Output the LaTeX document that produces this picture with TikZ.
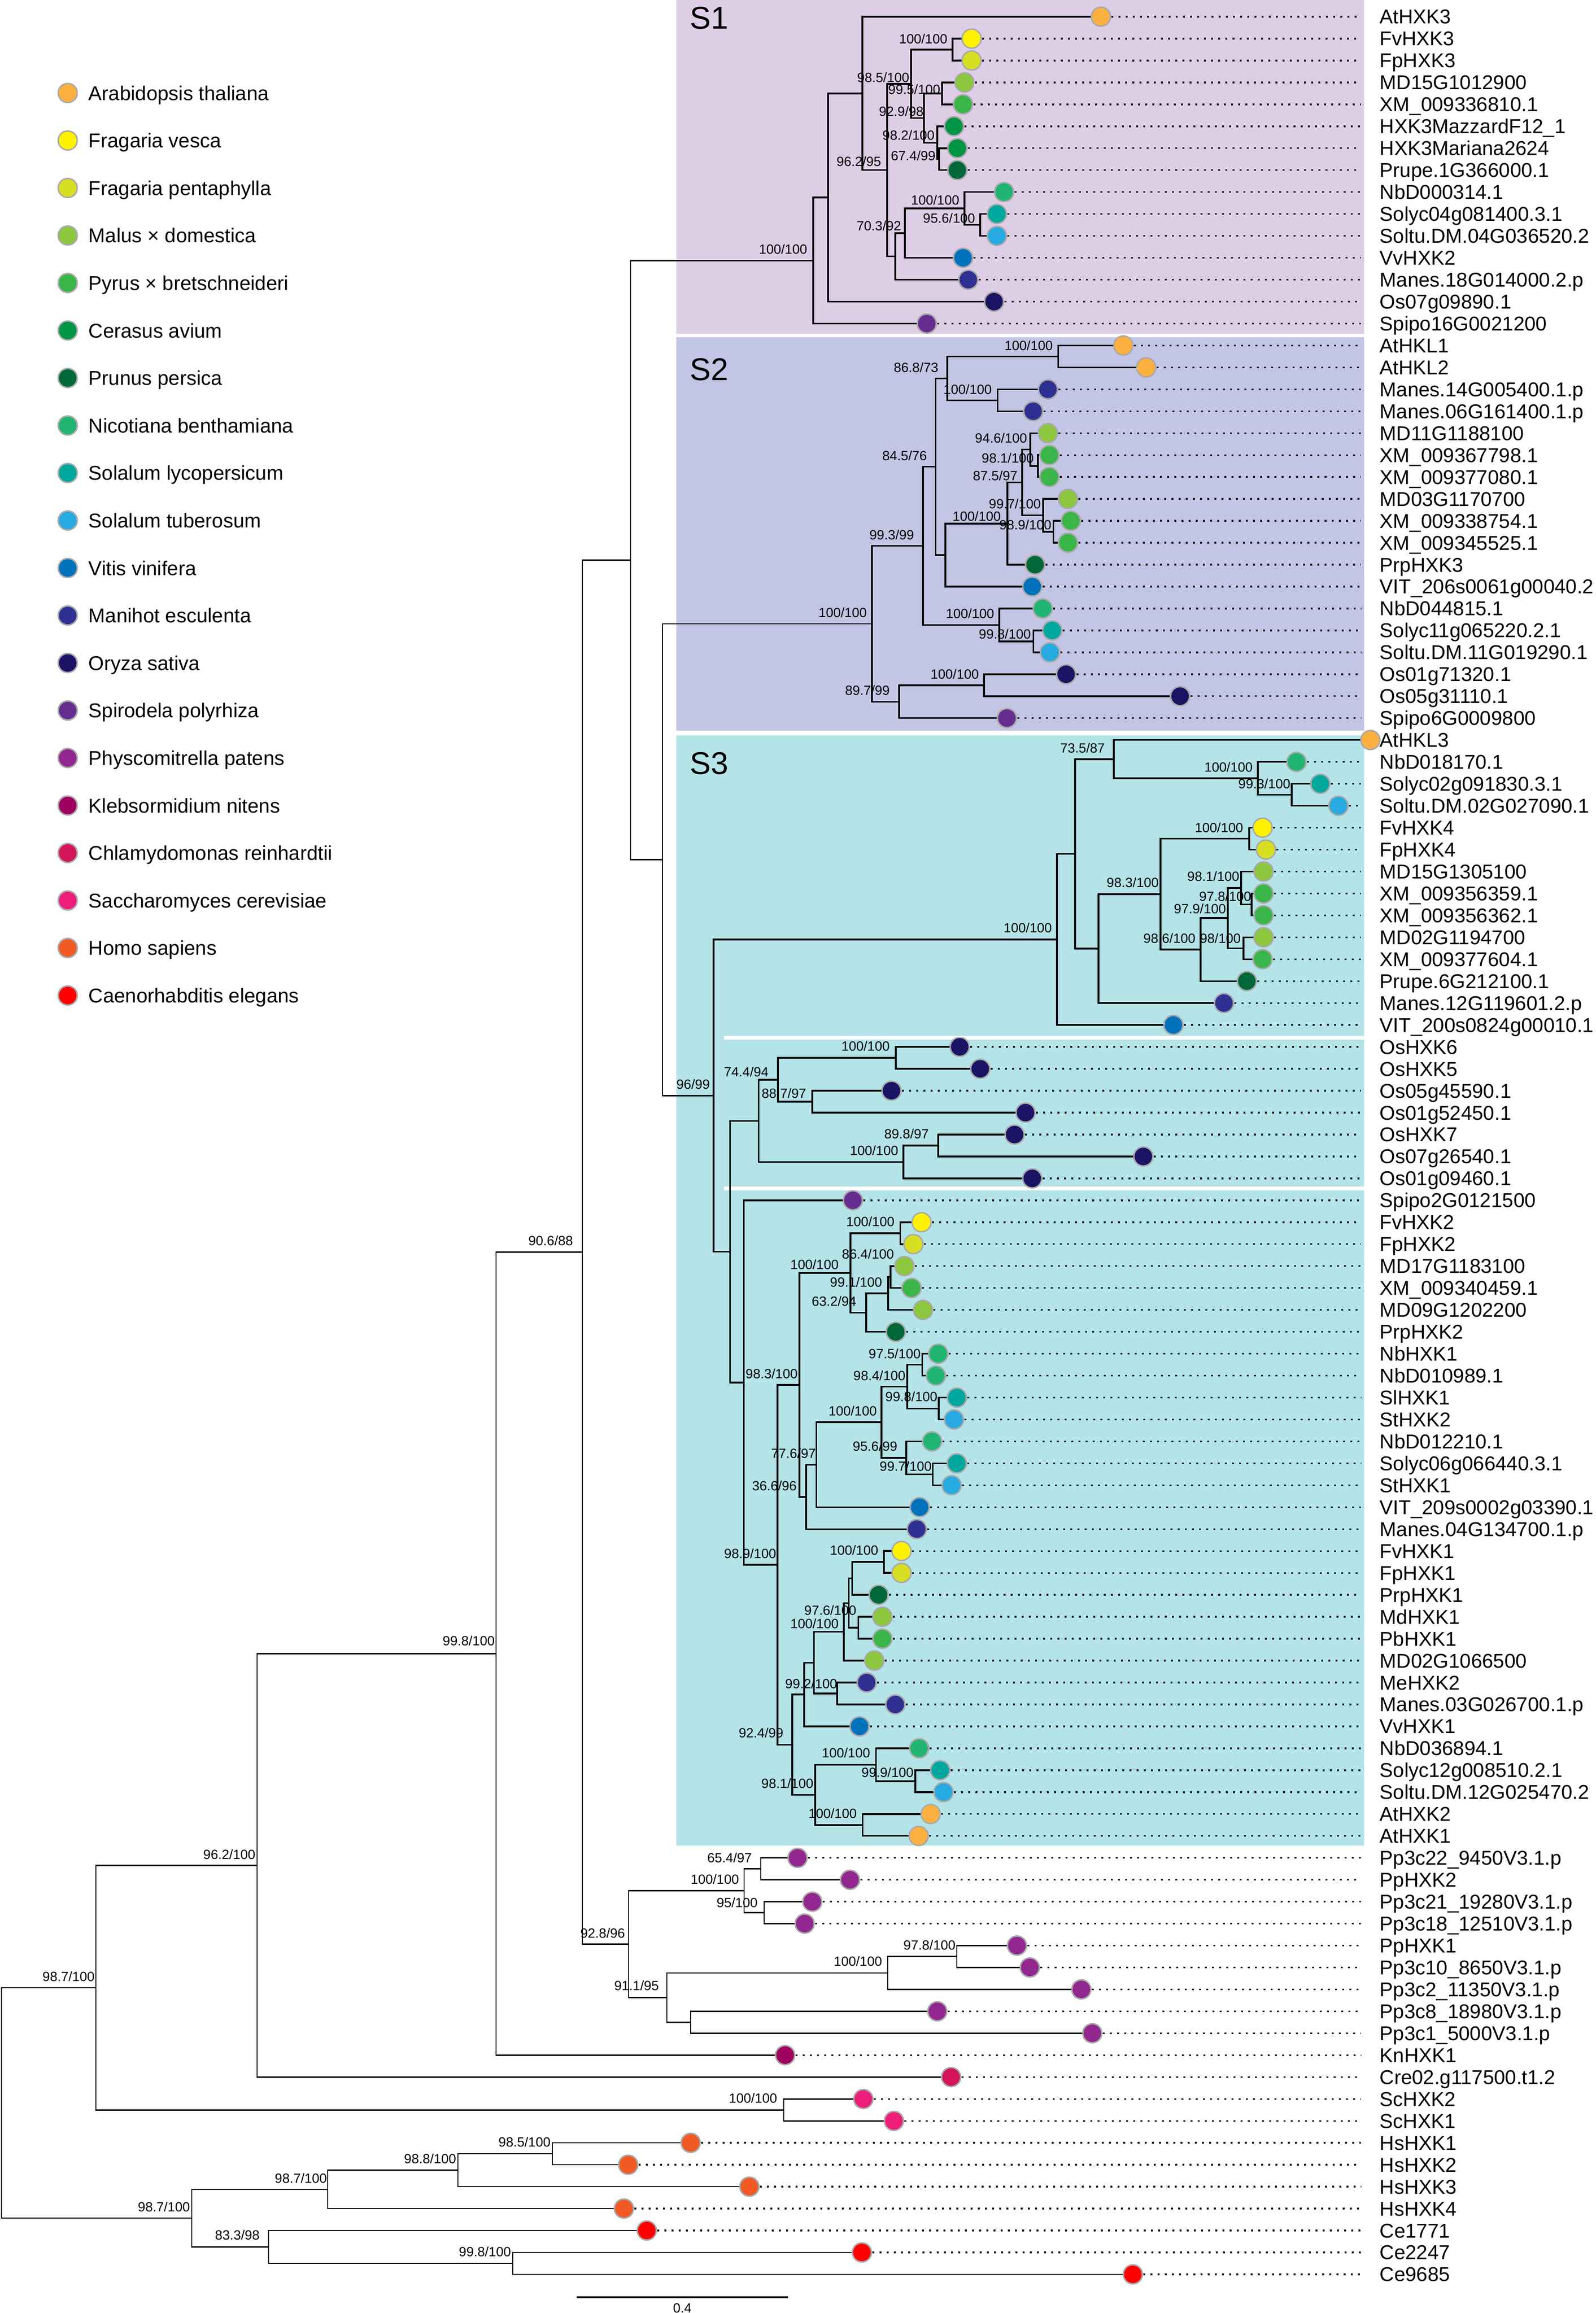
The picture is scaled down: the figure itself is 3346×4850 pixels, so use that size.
\documentclass[tikz,border=0pt]{standalone}
\usepackage{fontspec}
\setmainfont{Liberation Sans}
\usetikzlibrary{calc}
\definecolor{cAt}{HTML}{FBB040}
\definecolor{cFv}{HTML}{FFF200}
\definecolor{cFp}{HTML}{D7DF23}
\definecolor{cMd}{HTML}{8DC63F}
\definecolor{cPb}{HTML}{39B54A}
\definecolor{cCa}{HTML}{009444}
\definecolor{cPr}{HTML}{006838}
\definecolor{cNb}{HTML}{21B573}
\definecolor{cSl}{HTML}{00A79D}
\definecolor{cSt}{HTML}{27AAE1}
\definecolor{cVv}{HTML}{0072BC}
\definecolor{cMe}{HTML}{2E3192}
\definecolor{cOs}{HTML}{1B1464}
\definecolor{cSp}{HTML}{662D91}
\definecolor{cPp}{HTML}{92278F}
\definecolor{cKn}{HTML}{9E005D}
\definecolor{cCr}{HTML}{D4145A}
\definecolor{cSc}{HTML}{ED1E79}
\definecolor{cHs}{HTML}{F15A24}
\definecolor{cCe}{HTML}{FF0000}
\definecolor{bgA}{RGB}{221,206,229}
\definecolor{bgB}{RGB}{194,197,227}
\definecolor{bgC}{RGB}{180,227,232}
\definecolor{ring}{RGB}{170,170,170}
\newcommand\tnode[3]{\coordinate (#1) at (#2,{35+45.96*(#3)});}
\newcommand\brI[2]{\draw[branch] (#1) |- (#2);}
\newcommand\brO[2]{\draw[branchout] (#1) |- (#2);}
\newcommand\bsv[4]{\node[bsl] (#1) at (#2,#3) {#4};}
\def\leaflist{%
0/2308/At/AtHXK3,
1/2037/Fv/FvHXK3,
2/2037/Fp/FpHXK3,
3/2022/Md/MD15G1012900,
4/2019/Pb/XM\_009336810.1,
5/2000/Ca/HXK3MazzardF12\_1,
6/2007/Ca/HXK3Mariana2624,
7/2007/Pr/Prupe.1G366000.1,
8/2105/Nb/NbD000314.1,
9/2090/Sl/Solyc04g081400.3.1,
10/2090/St/Soltu.DM.04G036520.2,
11/2019/Vv/VvHXK2,
12/2030/Me/Manes.18G014000.2.p,
13/2084/Os/Os07g09890.1,
14/1943/Sp/Spipo16G0021200,
15/2355/At/AtHKL1,
16/2403/At/AtHKL2,
17/2197/Me/Manes.14G005400.1.p,
18/2166/Me/Manes.06G161400.1.p,
19/2197/Md/MD11G1188100,
20/2200/Pb/XM\_009367798.1,
21/2200/Pb/XM\_009377080.1,
22/2239/Md/MD03G1170700,
23/2245/Pb/XM\_009338754.1,
24/2239/Pb/XM\_009345525.1,
25/2170/Pr/PrpHXK3,
26/2164/Vv/VIT\_206s0061g00040.2,
27/2186/Nb/NbD044815.1,
28/2206/Sl/Solyc11g065220.2.1,
29/2201/St/Soltu.DM.11G019290.1,
30/2235/Os/Os01g71320.1,
31/2474/Os/Os05g31110.1,
32/2111/Sp/Spipo6G0009800,
33/2873/At/AtHKL3,
34/2718/Nb/NbD018170.1,
35/2768/Sl/Solyc02g091830.3.1,
36/2806/St/Soltu.DM.02G027090.1,
37/2647/Fv/FvHXK4,
38/2654/Fp/FpHXK4,
39/2649/Md/MD15G1305100,
40/2649/Pb/XM\_009356359.1,
41/2649/Pb/XM\_009356362.1,
42/2649/Md/MD02G1194700,
43/2647/Pb/XM\_009377604.1,
44/2614/Pr/Prupe.6G212100.1,
45/2566/Me/Manes.12G119601.2.p,
46/2460/Vv/VIT\_200s0824g00010.1,
47/2012/Os/OsHXK6,
48/2055/Os/OsHXK5,
49/1869/Os/Os05g45590.1,
50/2150/Os/Os01g52450.1,
51/2127/Os/OsHXK7,
52/2397/Os/Os07g26540.1,
53/2164/Os/Os01g09460.1,
54/1788/Sp/Spipo2G0121500,
55/1932/Fv/FvHXK2,
56/1915/Fp/FpHXK2,
57/1896/Md/MD17G1183100,
58/1911/Pb/XM\_009340459.1,
59/1935/Md/MD09G1202200,
60/1878/Pr/PrpHXK2,
61/1967/Nb/NbHXK1,
62/1962/Nb/NbD010989.1,
63/2006/Sl/SlHXK1,
64/2000/St/StHXK2,
65/1954/Nb/NbD012210.1,
66/2006/Sl/Solyc06g066440.3.1,
67/1995/St/StHXK1,
68/1928/Vv/VIT\_209s0002g03390.1,
69/1922/Me/Manes.04G134700.1.p,
70/1890/Fv/FvHXK1,
71/1890/Fp/FpHXK1,
72/1842/Pr/PrpHXK1,
73/1850/Md/MdHXK1,
74/1850/Pb/PbHXK1,
75/1833/Md/MD02G1066500,
76/1817/Me/MeHXK2,
77/1877/Me/Manes.03G026700.1.p,
78/1802/Vv/VvHXK1,
79/1927/Nb/NbD036894.1,
80/1971/Sl/Solyc12g008510.2.1,
81/1978/St/Soltu.DM.12G025470.2,
82/1951/At/AtHXK2,
83/1926/At/AtHXK1,
84/1672/Pp/Pp3c22\_9450V3.1.p,
85/1782/Pp/PpHXK2,
86/1703/Pp/Pp3c21\_19280V3.1.p,
87/1687/Pp/Pp3c18\_12510V3.1.p,
88/2132/Pp/PpHXK1,
89/2159/Pp/Pp3c10\_8650V3.1.p,
90/2267/Pp/Pp3c2\_11350V3.1.p,
91/1965/Pp/Pp3c8\_18980V3.1.p,
92/2290/Pp/Pp3c1\_5000V3.1.p,
93/1646/Kn/KnHXK1,
94/1994/Cr/Cre02.g117500.t1.2,
95/1810/Sc/ScHXK2,
96/1874/Sc/ScHXK1,
97/1448/Hs/HsHXK1,
98/1317/Hs/HsHXK2,
99/1571/Hs/HsHXK3,
100/1308/Hs/HsHXK4,
101/1356/Ce/Ce1771,
102/1807/Ce/Ce2247,
103/2375/Ce/Ce9685}
\begin{document}
\begin{tikzpicture}[x=0.25pt,y=-0.25pt,
  branch/.style={line width=0.875pt,line cap=rect},
  branchout/.style={line width=0.65pt,line cap=rect},
  leader/.style={line width=0.85pt,dash pattern=on 1.2pt off 2.55pt},
  dot/.style={circle,draw=ring,line width=0.75pt,minimum size=10pt,inner sep=0pt},
  leaflbl/.style={anchor=base west,inner sep=0pt,font=\fontsize{10.5}{12}\selectfont},
  leglbl/.style={anchor=base west,inner sep=0pt,font=\fontsize{10.5}{12}\selectfont},
  bsl/.style={anchor=east,inner sep=0pt,font=\fontsize{7}{8}\selectfont},
  slbl/.style={anchor=base west,inner sep=0pt,font=\fontsize{16.5}{18}\selectfont},
]
\useasboundingbox (0,0) rectangle (3346,4850);
\fill[white] (0,0) rectangle (3346,4850);
% clade backgrounds
\fill[bgA] (1418,0) rectangle (2860,700);
\fill[bgB] (1418,707) rectangle (2860,1532);
\fill[bgC] (1418,1542) rectangle (2860,3870);
\draw[white,line width=2pt] (1518,2176) -- (2860,2176);
\draw[white,line width=2pt] (1518,2492) -- (2860,2492);
\node[slbl] (tS1) at (1446,60) {S1};
\node[slbl] (tS2) at (1446,797) {S2};
\node[slbl] (tS3) at (1446,1623) {S3};
% leaf positions
\foreach \i/\cx/\cl/\tx in \leaflist {\coordinate (L\i) at (\cx,{35+45.96*\i});}
\coordinate (dotend) at (2853,0);
% ---- S1
\tnode{nE}{1997}{1.5} \brI{nE}{L1} \brI{nE}{L2}
\tnode{nG}{1975}{3.5} \brI{nG}{L3} \brI{nG}{L4}
\tnode{nI}{1969}{6.5} \brI{nI}{L6} \brI{nI}{L7}
\tnode{nH}{1965}{5.75} \brI{nH}{L5} \brI{nH}{nI}
\tnode{nF}{1937}{4.625} \brI{nF}{nG} \brI{nF}{nH}
\tnode{nD}{1910}{3.0625} \brI{nD}{nE} \brI{nD}{nF}
\tnode{nM}{2055}{9.5} \brI{nM}{L9} \brI{nM}{L10}
\tnode{nL}{2022}{8.75} \brI{nL}{L8} \brI{nL}{nM}
\tnode{nK}{1897}{9.875} \brI{nK}{nL} \brI{nK}{L11}
\tnode{nJ}{1877}{10.9375} \brI{nJ}{nK} \brI{nJ}{L12}
\tnode{nC}{1860}{7} \brI{nC}{nD} \brI{nC}{nJ}
\tnode{nB}{1808}{3.5} \brI{nB}{L0} \brI{nB}{nC}
\tnode{nA}{1736}{8.25} \brI{nA}{nB} \brI{nA}{L13}
\tnode{nS1}{1705}{11.125} \brI{nS1}{nA} \brI{nS1}{L14}
% ---- S2
\tnode{nAt2}{2218.5}{15.5} \brI{nAt2}{L15} \brI{nAt2}{L16}
\tnode{nMa2}{2091.6}{17.5} \brI{nMa2}{L17} \brI{nMa2}{L18}
\tnode{n2c}{1986}{16.5} \brI{n2c}{nAt2} \brI{n2c}{nMa2}
\tnode{n2h}{2176}{20.5} \brI{n2h}{L20} \brI{n2h}{L21}
\tnode{n2g}{2160}{19.75} \brI{n2g}{L19} \brI{n2g}{n2h}
\tnode{n2j}{2208.6}{23.5} \brI{n2j}{L23} \brI{n2j}{L24}
\tnode{n2i}{2187}{22.75} \brI{n2i}{L22} \brI{n2i}{n2j}
\tnode{n2f}{2143}{21.25} \brI{n2f}{n2g} \brI{n2f}{n2i}
\tnode{n2e}{2112}{23.125} \brI{n2e}{n2f} \brI{n2e}{L25}
\tnode{n2d}{1982}{24.5625} \brI{n2d}{n2e} \brI{n2d}{L26}
\tnode{n2b}{1961.5}{20.53125} \brI{n2b}{n2c} \brI{n2b}{n2d}
\tnode{n2l}{2166.5}{28.5} \brI{n2l}{L28} \brI{n2l}{L29}
\tnode{n2k}{2095}{27.75} \brI{n2k}{L27} \brI{n2k}{n2l}
\tnode{n2a}{1935}{24.140625} \brI{n2a}{n2b} \brI{n2a}{n2k}
\tnode{n2n}{2063}{30.5} \brI{n2n}{L30} \brI{n2n}{L31}
\tnode{n2m}{1885}{31.25} \brI{n2m}{n2n} \brI{n2m}{L32}
\tnode{nS2}{1828}{27.6953} \brI{nS2}{n2a} \brI{nS2}{n2m}
% ---- S3 top
\tnode{n3E}{2708}{35.5} \brI{n3E}{L35} \brI{n3E}{L36}
\tnode{n3D}{2637}{34.75} \brI{n3D}{L34} \brI{n3D}{n3E}
\tnode{n3C}{2335}{33.875} \brI{n3C}{L33} \brI{n3C}{n3D}
\tnode{n3H}{2619}{37.5} \brI{n3H}{L37} \brI{n3H}{L38}
\tnode{n3L}{2624}{40.5} \brI{n3L}{L40} \brI{n3L}{L41}
\tnode{n3K}{2602}{39.75} \brI{n3K}{L39} \brI{n3K}{n3L}
\tnode{n3M}{2607}{42.5} \brI{n3M}{L42} \brI{n3M}{L43}
\tnode{n3J}{2574}{41.125} \brI{n3J}{n3K} \brI{n3J}{n3M}
\tnode{n3I}{2517}{42.5625} \brI{n3I}{n3J} \brI{n3I}{L44}
\tnode{n3G}{2433}{40.03125} \brI{n3G}{n3H} \brI{n3G}{n3I}
\tnode{n3F}{2303}{42.515625} \brI{n3F}{n3G} \brI{n3F}{L45}
\tnode{n3B}{2254}{38.1953} \brI{n3B}{n3C} \brI{n3B}{n3F}
\tnode{n3A}{2216}{42.0977} \brI{n3A}{n3B} \brI{n3A}{L46}
% ---- Os
\tnode{nOsC}{1878}{47.5} \brI{nOsC}{L47} \brI{nOsC}{L48}
\tnode{nOsD}{1703}{49.5} \brI{nOsD}{L49} \brI{nOsD}{L50}
\tnode{nOsB}{1631}{48.5} \brI{nOsB}{nOsC} \brI{nOsB}{nOsD}
\tnode{nOsF}{1967}{51.5} \brI{nOsF}{L51} \brI{nOsF}{L52}
\tnode{nOsE}{1894}{52.25} \brI{nOsE}{nOsF} \brI{nOsE}{L53}
\tnode{nOsA}{1590.5}{50.375} \brI{nOsA}{nOsB} \brI{nOsA}{nOsE}
% ---- S3 lower
\tnode{n3b}{1887.6}{55.5} \brI{n3b}{L55} \brI{n3b}{L56}
\tnode{n3e}{1867}{57.5} \brI{n3e}{L57} \brI{n3e}{L58}
\tnode{n3d}{1862}{58.25} \brI{n3d}{n3e} \brI{n3d}{L59}
\tnode{n3c}{1816}{59.125} \brI{n3c}{n3d} \brI{n3c}{L60}
\tnode{n3a}{1783}{57.3125} \brI{n3a}{n3b} \brI{n3a}{n3c}
\tnode{n3j}{1933.6}{61.5} \brI{n3j}{L61} \brI{n3j}{L62}
\tnode{n3k}{1968}{63.5} \brI{n3k}{L63} \brI{n3k}{L64}
\tnode{n3i}{1902}{62.5} \brI{n3i}{n3j} \brI{n3i}{n3k}
\tnode{n3m}{1955.5}{66.5} \brI{n3m}{L66} \brI{n3m}{L67}
\tnode{n3l}{1900}{65.75} \brI{n3l}{L65} \brI{n3l}{n3m}
\tnode{n3h}{1848}{64.125} \brI{n3h}{n3i} \brI{n3h}{n3l}
\tnode{n3f}{1711.6}{66.0625} \brI{n3f}{n3h} \brI{n3f}{L68}
\tnode{n3g}{1690}{67.53125} \brI{n3g}{n3f} \brI{n3g}{L69}
\tnode{n3Z2}{1676}{62.421875} \brI{n3Z2}{n3a} \brI{n3Z2}{n3g}
\tnode{n3w}{1853}{70.5} \brI{n3w}{L70} \brI{n3w}{L71}
\tnode{n3v}{1786.6}{71.25} \brI{n3v}{n3w} \brI{n3v}{L72}
\tnode{n3u}{1799.4}{73.5} \brI{n3u}{L73} \brI{n3u}{L74}
\tnode{n3t}{1779.5}{72.375} \brI{n3t}{n3v} \brI{n3t}{n3u}
\tnode{n3s}{1769}{73.6875} \brI{n3s}{n3t} \brI{n3s}{L75}
\tnode{n3q}{1755}{76.5} \brI{n3q}{L76} \brI{n3q}{L77}
\tnode{n3p}{1706.5}{75.09375} \brI{n3p}{n3s} \brI{n3p}{n3q}
\tnode{n3o}{1686}{76.546875} \brI{n3o}{n3p} \brI{n3o}{L78}
\tnode{n3y}{1919}{80.5} \brI{n3y}{L80} \brI{n3y}{L81}
\tnode{n3x}{1836.6}{79.75} \brI{n3x}{L79} \brI{n3x}{n3y}
\tnode{n3z}{1808.6}{82.5} \brI{n3z}{L82} \brI{n3z}{L83}
\tnode{n3r}{1709}{81.125} \brI{n3r}{n3x} \brI{n3r}{n3z}
\tnode{n3n}{1661}{78.8359} \brI{n3n}{n3o} \brI{n3n}{n3r}
\tnode{n3Z1}{1630}{70.6289} \brI{n3Z1}{n3Z2} \brI{n3Z1}{n3n}
\tnode{n3Y}{1559.6}{62.3145} \brI{n3Y}{L54} \brI{n3Y}{n3Z1}
\tnode{n3X}{1530.5}{56.3447} \brI{n3X}{nOsA} \brI{n3X}{n3Y}
\tnode{nS3}{1496}{49.2212} \brI{nS3}{n3A} \brI{nS3}{n3X}
% ---- backbone
\tnode{nN2}{1389}{38.4583} \brO{nN2}{nS2} \brO{nN2}{nS3}
\tnode{nN1}{1322}{24.7917} \brO{nN1}{nS1} \brO{nN1}{nN2}
% ---- Physcomitrella
\tnode{nPa1}{1595}{84.5} \brO{nPa1}{L84} \brO{nPa1}{L85}
\tnode{nPa2}{1602}{86.5} \brO{nPa2}{L86} \brO{nPa2}{L87}
\tnode{nPa}{1560}{85.5} \brO{nPa}{nPa1} \brO{nPa}{nPa2}
\tnode{nPb1a}{2006}{88.5} \brO{nPb1a}{L88} \brO{nPb1a}{L89}
\tnode{nPb1}{1861}{89.25} \brO{nPb1}{nPb1a} \brO{nPb1}{L90}
\tnode{nPb2}{1448}{91.5} \brO{nPb2}{L91} \brO{nPb2}{L92}
\tnode{nPb}{1398}{90.375} \brO{nPb}{nPb1} \brO{nPb}{nPb2}
\tnode{nPp}{1318}{87.9375} \brO{nPp}{nPa} \brO{nPp}{nPb}
\tnode{nN0}{1221}{56.3646} \brO{nN0}{nN1} \brO{nN0}{nPp}
\tnode{nP}{1040}{74.6823} \brO{nP}{nN0} \brO{nP}{L93}
\tnode{nQ}{539}{84.3411} \brO{nQ}{nP} \brO{nQ}{L94}
\tnode{nSc}{1643}{95.5} \brO{nSc}{L95} \brO{nSc}{L96}
\tnode{nR}{201}{89.9206} \brO{nR}{nQ} \brO{nR}{nSc}
\tnode{nHs3}{1158}{97.5} \brO{nHs3}{L97} \brO{nHs3}{L98}
\tnode{nHs2}{960}{98.25} \brO{nHs2}{nHs3} \brO{nHs2}{L99}
\tnode{nHs1}{687}{99.125} \brO{nHs1}{nHs2} \brO{nHs1}{L100}
\tnode{nCe2}{1075}{102.5} \brO{nCe2}{L102} \brO{nCe2}{L103}
\tnode{nCe1}{563}{101.75} \brO{nCe1}{L101} \brO{nCe1}{nCe2}
\tnode{nHC}{402}{100.4375} \brO{nHC}{nHs1} \brO{nHC}{nCe1}
\tnode{nRoot}{3}{95.179} \brO{nRoot}{nR} \brO{nRoot}{nHC}
% leaf dots, leaders and names
\foreach \i/\cx/\cl/\tx in \leaflist {
  \node[dot,fill=c\cl] (C\i) at (L\i) {};
  \ifnum\i=33\relax\else\draw[leader] (C\i.east) -- (C\i.east -| dotend);\fi
  \node[leaflbl] (T\i) at (2892,{50+45.96*\i}) {\tx};
}
% support values S1
\bsv{bS1}{1693}{522}{100/100}
\bsv{bC}{1848}{338}{96.2/95}
\bsv{bD}{1907}{162}{98.5/100}
\bsv{bE}{1987}{81}{100/100}
\bsv{bG}{1972}{187}{99.5/100}
\bsv{bF}{1937}{233}{92.9/98}
\bsv{bH}{1960}{283}{98.2/100}
\bsv{bI}{1962}{326}{67.4/99}
\bsv{bL}{2012}{419}{100/100}
\bsv{bM}{2045}{457}{95.6/100}
\bsv{bK}{1890}{473}{70.3/92}
% S2
\bsv{bS2}{1818}{1284}{100/100}
\bsv{b2a}{1917}{1121}{99.3/99}
\bsv{b2b}{1944}{955}{84.5/76}
\bsv{b2c}{1968}{770}{86.8/73}
\bsv{bAt2}{2208}{724}{100/100}
\bsv{bMa2}{2080}{816}{100/100}
\bsv{b2e}{2099}{1082}{100/100}
\bsv{b2f}{2134}{997}{87.5/97}
\bsv{b2g}{2154}{918}{94.6/100}
\bsv{b2h}{2168}{960}{98.1/100}
\bsv{b2i}{2183}{1056}{99.7/100}
\bsv{b2j}{2205}{1100}{98.9/100}
\bsv{b2k}{2085}{1286}{100/100}
\bsv{b2l}{2162}{1329}{99.8/100}
\bsv{b2m}{1866}{1447}{89.7/99}
\bsv{b2n}{2053}{1413}{100/100}
% S3 top
\bsv{b3A}{2206}{1945}{100/100}
\bsv{b3C}{2317}{1568}{73.5/87}
\bsv{b3D}{2627}{1608}{100/100}
\bsv{b3E}{2706}{1643}{99.3/100}
\bsv{b3G}{2430}{1850}{98.3/100}
\bsv{b3H}{2607}{1735}{100/100}
\bsv{b3I}{2507}{1967}{98.6/100}
\bsv{b3J}{2571}{1905}{97.9/100}
\bsv{b3K}{2599}{1837}{98.1/100}
\bsv{b3L}{2624}{1879}{97.8/100}
\bsv{b3M}{2602}{1967}{98/100}
\bsv{bS3}{1489}{2273}{96/99}
% Os
\bsv{bOsB}{1612}{2247}{74.4/94}
\bsv{bOsC}{1866}{2193}{100/100}
\bsv{bOsD}{1691}{2292}{88.7/97}
\bsv{bOsE}{1884}{2412}{100/100}
\bsv{bOsF}{1948}{2377}{89.8/97}
% S3 lower
\bsv{b3Z2}{1673}{2880}{98.3/100}
\bsv{b3a}{1759}{2651}{100/100}
\bsv{b3b}{1876}{2561}{100/100}
\bsv{b3e}{1875}{2629}{86.4/100}
\bsv{b3d}{1850}{2688}{99.1/100}
\bsv{b3c}{1796}{2728}{63.2/94}
\bsv{b3f}{1711}{3047}{77.6/97}
\bsv{b3g}{1671}{3115}{36.6/96}
\bsv{b3h}{1839}{2958}{100/100}
\bsv{b3i}{1899}{2884}{98.4/100}
\bsv{b3j}{1931}{2838}{97.5/100}
\bsv{b3k}{1966}{2928}{99.8/100}
\bsv{b3l}{1882}{3032}{95.6/99}
\bsv{b3m}{1954}{3074}{99.7/100}
\bsv{b3Z1}{1628}{3257}{98.9/100}
\bsv{b3n}{1643}{3633}{92.4/99}
\bsv{b3q}{1756}{3530}{99.2/100}
\bsv{b3s}{1759}{3404}{100/100}
\bsv{b3u}{1796}{3376}{97.6/100}
\bsv{b3w}{1842}{3250}{100/100}
\bsv{b3r}{1706}{3739}{98.1/100}
\bsv{b3x}{1825}{3675}{100/100}
\bsv{b3y}{1916}{3716}{99.9/100}
\bsv{b3z}{1797}{3802}{100/100}
% Pp and outer
\bsv{bPp}{1311}{4053}{92.8/96}
\bsv{bPa}{1550}{3940}{100/100}
\bsv{bPa1}{1577}{3895}{65.4/97}
\bsv{bPa2}{1589}{3989}{95/100}
\bsv{bPb}{1382}{4163}{91.1/95}
\bsv{bPb1}{1850}{4112}{100/100}
\bsv{bPb1a}{2004}{4078}{97.8/100}
\bsv{bN0}{1202}{2601}{90.6/88}
\bsv{bP}{1038}{3440}{99.8/100}
\bsv{bQ}{536}{3888}{96.2/100}
\bsv{bR}{199}{4144}{98.7/100}
\bsv{bSc}{1630}{4399}{100/100}
\bsv{bHs1}{686}{4567}{98.7/100}
\bsv{bHs2}{957}{4526}{98.8/100}
\bsv{bHs3}{1155}{4491}{98.5/100}
\bsv{bHC}{399}{4627}{98.7/100}
\bsv{bCe1}{545}{4686}{83.3/98}
\bsv{bCe2}{1072}{4721}{99.8/100}
% legend
\foreach \k/\cl/\tx in {0/At/Arabidopsis thaliana,1/Fv/Fragaria vesca,2/Fp/Fragaria pentaphylla,3/Md/Malus × domestica,4/Pb/Pyrus × bretschneideri,5/Ca/Cerasus avium,6/Pr/Prunus persica,7/Nb/Nicotiana benthamiana,8/Sl/Solalum lycopersicum,9/St/Solalum tuberosum,10/Vv/Vitis vinifera,11/Me/Manihot esculenta,12/Os/Oryza sativa,13/Sp/Spirodela polyrhiza,14/Pp/Physcomitrella patens,15/Kn/Klebsormidium nitens,16/Cr/Chlamydomonas reinhardtii,17/Sc/Saccharomyces cerevisiae,18/Hs/Homo sapiens,19/Ce/Caenorhabditis elegans} {
  \node[dot,fill=c\cl] (G\k) at (142,{195+99.6*\k}) {};
  \node[leglbl] (GT\k) at (185,{210+99.6*\k}) {\tx};
}
% scale bar
\coordinate (sb1) at (1209,4817);
\coordinate (sb2) at (1652,4817);
\draw[line width=0.8pt] (sb1) -- (sb2);
\node[anchor=base,inner sep=0pt,font=\fontsize{7}{8}\selectfont] (sbl) at ($(sb1)!0.5!(sb2)+(0,32)$) {0.4};
\end{tikzpicture}
\end{document}
